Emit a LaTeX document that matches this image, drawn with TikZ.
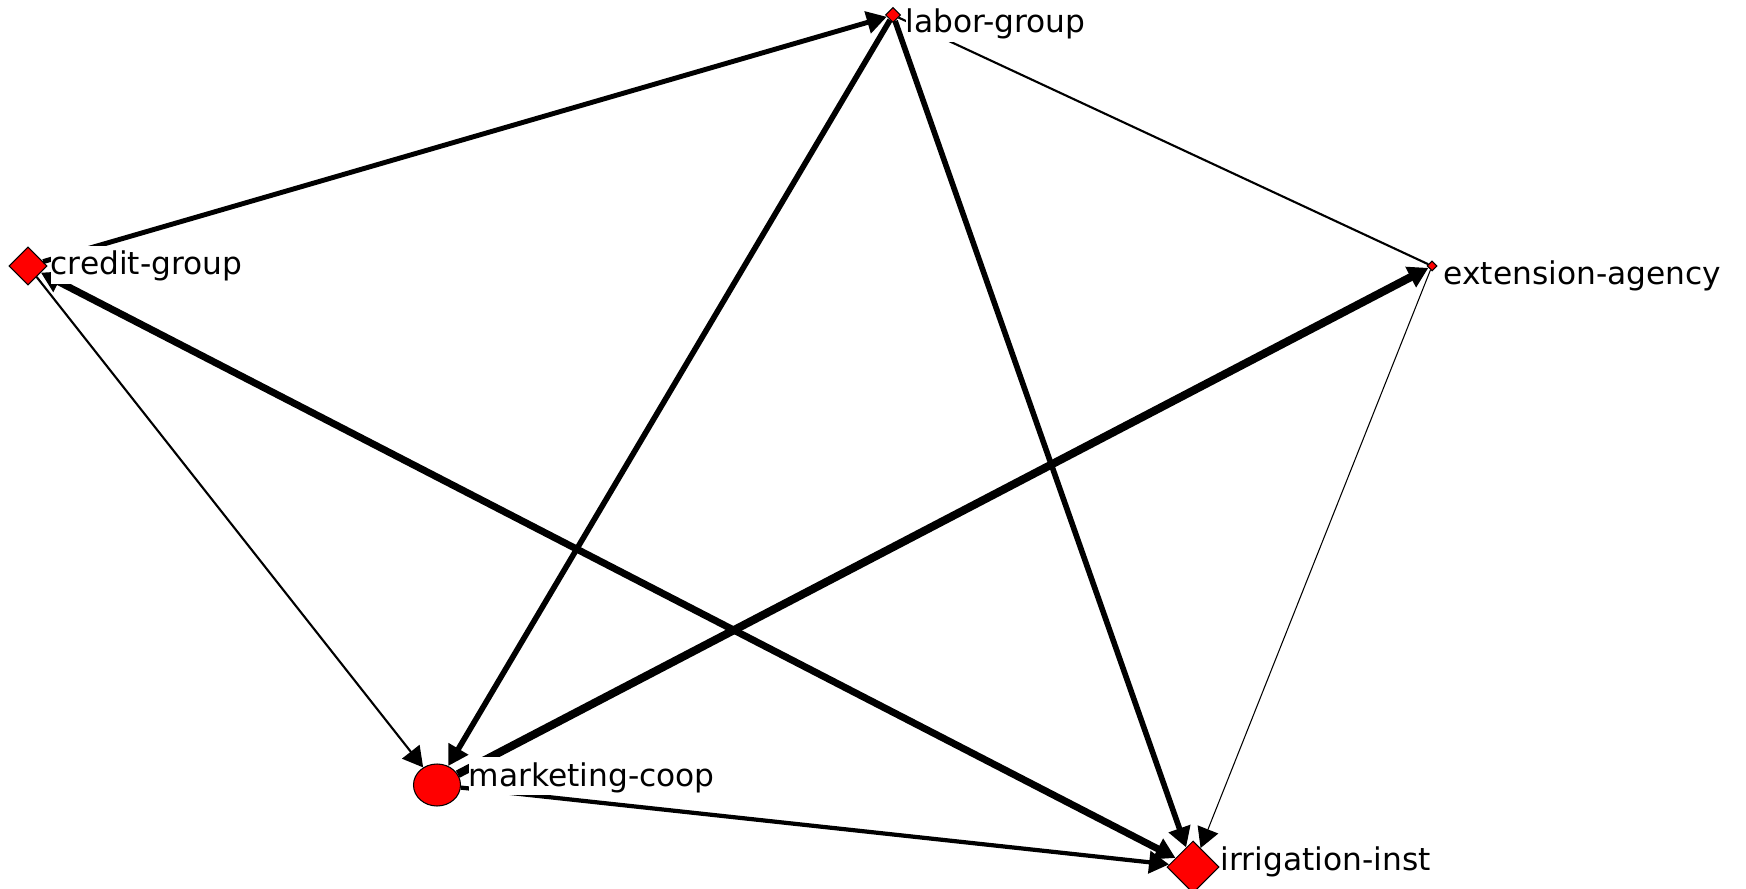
\documentclass[tikz,border=0pt]{standalone}
\usepackage{fontspec}
\setmainfont{DejaVu Sans}
\usetikzlibrary{shapes.geometric,arrows.meta}

\begin{document}
\begin{tikzpicture}[x=0.1mm, y=-0.1mm,
    >={Triangle[length=2mm,width=2.2mm]},
    actor/.style={draw=black, line width=0.3pt, fill=red, inner sep=0pt},
    link/.style={->, line width=#1},
    tag/.style={anchor=base west, fill=white, inner sep=0pt,
        text height=8.3pt, text depth=2.5pt, font=\fontsize{8.9}{10}\selectfont}]

    % Keep the page the size of the network plot
    \useasboundingbox (0,0) rectangle (1746,889);

    % Actors (size of the symbol as in the plot)
    \node[actor, diamond, minimum size=1.5mm] (labor) at (893,15) {};
    \node[actor, diamond, minimum size=3.8mm] (credit) at (28,266) {};
    \node[actor, diamond, minimum size=1mm] (extension) at (1432,266) {};
    \node[actor, ellipse, minimum width=4.7mm, minimum height=4.2mm] (marketing) at (437,785) {};
    \node[actor, diamond, minimum size=5.2mm] (irrigation) at (1193,867) {};

    % Ties, line width follows tie strength
    \draw[link=1.4pt] (credit) -- (labor);
    \draw[link=1.6pt] (labor) -- (marketing);
    \draw[link=1.6pt] (labor) -- (irrigation);
    \draw[line width=0.6pt] (labor) -- (extension);
    \draw[link=2pt, <->] (credit) -- (irrigation);
    \draw[link=0.6pt] (credit) -- (marketing);
    \draw[link=2.3pt] (marketing) -- (extension);
    \draw[link=1.2pt] (marketing) -- (irrigation);
    \draw[link=0.3pt] (extension) -- (irrigation);

    % Labels go on top of the ties
    \node[tag] (labor-tag) at (905,33) {labor-group};
    \node[tag] (credit-tag) at (50,275) {credit-group};
    \node[tag] (extension-tag) at (1443,285) {extension-agency};
    \node[tag] (marketing-tag) at (468,786) {marketing-coop};
    \node[tag] (irrigation-tag) at (1220,870) {irrigation-inst};

\end{tikzpicture}
\end{document}
